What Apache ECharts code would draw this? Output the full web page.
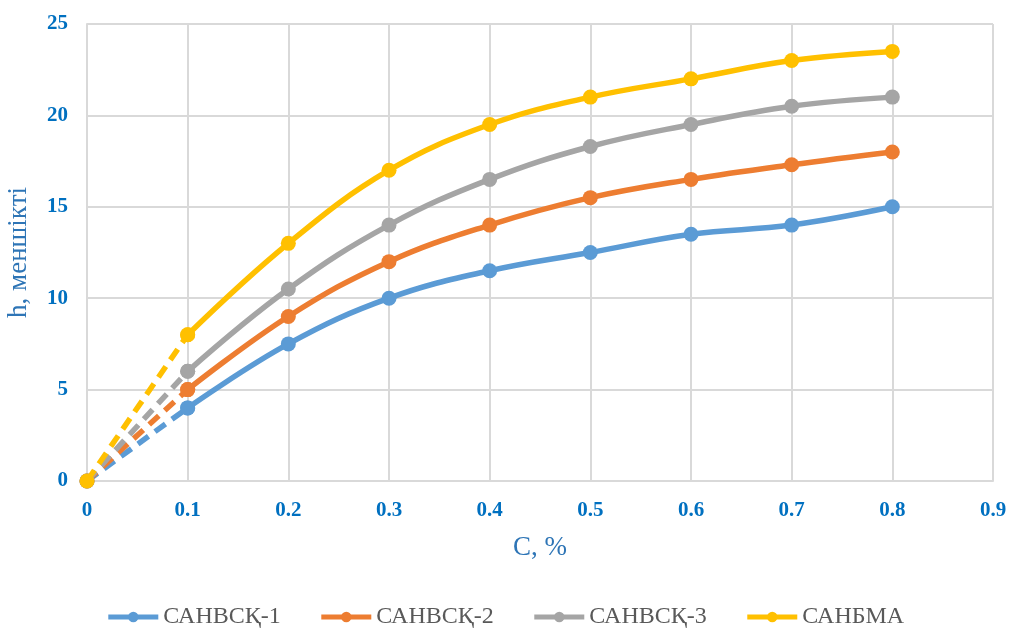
<!DOCTYPE html>
<html>
<head>
<meta charset="utf-8">
<script src="https://cdn.jsdelivr.net/npm/echarts@6/dist/echarts.min.js"></script>
<style>
  html, body { margin: 0; padding: 0; background: #fff; }
  #chart { width: 1010px; height: 628px; }
</style>
</head>
<body>
<div id="chart"></div>
<script>
// Concentration C, % (x values)
const concentrations = [0, 0.1, 0.2, 0.3, 0.4, 0.5, 0.6, 0.7, 0.8];
const seriesNames = ['САНВСҚ-1', 'САНВСҚ-2', 'САНВСҚ-3', 'САНБМА'];
const sanvsk1 = [0, 4, 7.5, 10, 11.5, 12.5, 13.5, 14, 15];
const sanvsk2 = [0, 5, 9, 12, 14, 15.5, 16.5, 17.3, 18];
const sanvsk3 = [0, 6, 10.5, 14, 16.5, 18.3, 19.5, 20.5, 21];
const sanbma  = [0, 8, 13, 17, 19.5, 21, 22, 23, 23.5];
const colors = ['#5B9BD5', '#ED7D31', '#A5A5A5', '#FFC000'];

const allValues = [sanvsk1, sanvsk2, sanvsk3, sanbma];
const font = 'Liberation Serif, Times New Roman, serif';
const lineW = 5.5;
const markSize = 15;

const series = [];
// Dashed extrapolation from the origin to the first measured point
allValues.forEach((vals, i) => {
  series.push({
    name: seriesNames[i] + ' (0)',
    type: 'line',
    data: [[concentrations[0], vals[0]], [concentrations[1], vals[1]]],
    lineStyle: { color: colors[i], width: lineW, type: [13, 8] },
    itemStyle: { color: colors[i] },
    symbol: 'circle',
    symbolSize: markSize,
    z: 2 + i
  });
});
// Measured curves, smoothed
allValues.forEach((vals, i) => {
  series.push({
    name: seriesNames[i],
    type: 'line',
    smooth: 0.4,
    data: concentrations.slice(1).map((c, k) => [c, vals[k + 1]]),
    lineStyle: { color: colors[i], width: lineW },
    itemStyle: { color: colors[i] },
    symbol: 'circle',
    symbolSize: markSize,
    z: 2 + i
  });
});

const chart = echarts.init(document.getElementById('chart'));
chart.setOption({
  animation: false,
  backgroundColor: '#ffffff',
  grid: { left: 87, right: 17, top: 24, bottom: 147, containLabel: false, outerBoundsMode: 'none' },
  legend: {
    data: seriesNames,
    top: 600,
    left: 'center',
    itemWidth: 50,
    itemHeight: 13,
    itemGap: 38,
    lineStyle: { width: 5 },
    textStyle: { fontFamily: font, fontSize: 24, color: '#595959' }
  },
  xAxis: {
    type: 'value',
    min: 0, max: 0.9, interval: 0.1,
    name: 'C, %',
    nameLocation: 'middle',
    nameGap: 53,
    nameTextStyle: { fontFamily: font, fontSize: 27, color: '#2E75B6' },
    axisLine: { lineStyle: { color: '#D9D9D9', width: 2 } },
    axisTick: { show: false },
    axisLabel: {
      margin: 19,
      fontFamily: font, fontSize: 21, fontWeight: 'bold', color: '#0070C0',
      formatter: v => (Math.round(v * 10) / 10).toString()
    },
    splitLine: { show: true, lineStyle: { color: '#D9D9D9', width: 2 } }
  },
  yAxis: {
    type: 'value',
    min: 0, max: 25, interval: 5,
    name: 'h, меншікті',
    nameLocation: 'middle',
    nameGap: 55,
    nameTextStyle: { fontFamily: font, fontSize: 27, color: '#2E75B6' },
    axisLine: { show: true, lineStyle: { color: '#D9D9D9', width: 2 } },
    axisTick: { show: false },
    axisLabel: {
      margin: 19,
      fontFamily: font, fontSize: 21, fontWeight: 'bold', color: '#0070C0'
    },
    splitLine: { show: true, lineStyle: { color: '#D9D9D9', width: 2 } }
  },
  series: series
});
</script>
</body>
</html>
